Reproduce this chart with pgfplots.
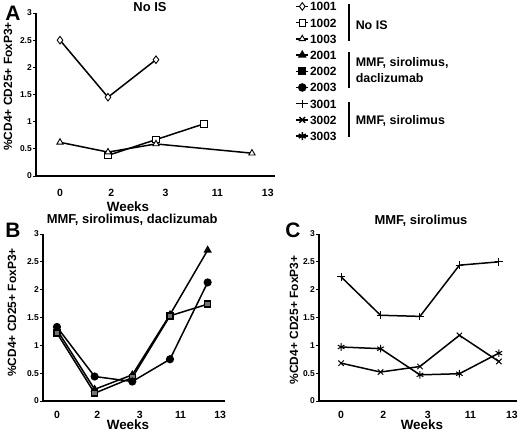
\documentclass[border=0pt]{standalone}
\usepackage{fontspec}
\setmainfont{Liberation Sans}
\usepackage{pgfplots}
\pgfplotsset{compat=1.18}

\pgfplotsset{
  panel/.style={
    scale only axis,
    axis x line*=bottom, axis y line*=left,
    axis line style={line width=1.5bp},
    ymin=0, ymax=3, ytick={0,0.5,...,3},
    xtick={0,1.07,2.2,3.28,4.33},
    xticklabels={0,2,3,11,13},
    x tick style={draw=none},
    y tick style={line width=0.8bp, black},
    tick align=outside, major tick length=3bp,
    /pgf/number format/assume math mode=true,
    yticklabel style={font=\bfseries\fontsize{8.5}{8.5}\selectfont, inner sep=1bp},
    xticklabel style={font=\bfseries\fontsize{10.5}{10.5}\selectfont, anchor=base},
    title style={font=\bfseries\fontsize{13}{13}\selectfont, anchor=center},
    xlabel style={font=\bfseries\fontsize{13.5}{13.5}\selectfont, anchor=center},
    ylabel style={font=\bfseries\fontsize{12}{12}\selectfont, anchor=center},
    every axis plot/.append style={black, line width=1.5bp, mark size=3.3bp},
    clip=false,
  },
  open/.style={mark options={fill=white, solid, line width=0.9bp}},
  full/.style={mark options={fill=black, solid}},
}

\begin{document}
\begin{tikzpicture}
\useasboundingbox (0bp,0bp) rectangle (520bp,432bp);

% A: no immunosuppression
\begin{axis}[panel,
  at={(36bp,256bp)}, anchor=south west,
  width=239bp, height=163bp,
  xmin=-0.5, xmax=4.48,
  xticklabel style={yshift=-17.5bp},
  title={No IS}, title style={at={(axis description cs:0.477,1)}},
  xlabel={Weeks}, xlabel style={at={(axis description cs:0.385,0)}, yshift=-31bp},
  ylabel={\%CD4+ CD25+ FoxP3+}, ylabel style={at={(axis description cs:-0.117,0.55)}},
  legend style={at={(axis description cs:1.085,1.075)}, anchor=north west,
    draw=none, fill=none, inner sep=0pt,
    font=\bfseries\fontsize{12}{12}\selectfont, row sep=5.2bp,
    nodes={inner sep=1bp, text height=9bp, text depth=0bp}},
  legend cell align=left,
  legend image code/.code={\draw[mark repeat=2,mark phase=2] plot coordinates {(0bp,0bp)(6bp,0bp)(12bp,0bp)};},
]
\addplot[mark=diamond*, open, mark size=3.8bp] coordinates {(0,2.50)(1,1.45)(2,2.14)};
\addplot[mark=square*, open] coordinates {(1,0.38)(2,0.67)(3,0.96)};
\addplot[mark=triangle*, open, mark size=3.6bp] coordinates {(0,0.62)(1,0.44)(2,0.59)(4,0.42)};
\addlegendimage{black, line width=1.5bp, mark=triangle*, full, mark size=3.6bp}
\addlegendimage{black, line width=1.5bp, mark=square*, full, mark size=3.3bp}
\addlegendimage{black, line width=1.5bp, mark=*, full, mark size=3.5bp}
\addlegendimage{black, line width=1.5bp, mark=+, mark size=4bp}
\addlegendimage{black, line width=1.5bp, mark=x, mark size=4bp}
\addlegendimage{black, line width=1.5bp, mark=asterisk, mark size=4bp}
\legend{1001,1002,1003,2001,2002,2003,3001,3002,3003}
\end{axis}

% B: MMF, sirolimus, daclizumab
\begin{axis}[panel,
  at={(43bp,31bp)}, anchor=south west,
  width=182bp, height=167bp,
  xmin=-0.37, xmax=4.46,
  xticklabel style={yshift=-14.5bp},
  title={MMF, sirolimus, daclizumab}, title style={at={(axis description cs:0.49,1)}, yshift=8bp},
  xlabel={Weeks}, xlabel style={at={(axis description cs:0.467,0)}, yshift=-24bp},
  ylabel={\%CD4+ CD25+ FoxP3+}, ylabel style={at={(axis description cs:-0.17,0.53)}},
]
\addplot[mark=triangle*, full, mark size=3.3bp] coordinates {(0,1.28)(1,0.21)(2,0.47)(3,1.55)(4,2.71)};
\addplot[mark=square*, mark options={fill=black!55, draw=black, solid}, mark size=3bp] coordinates {(0,1.22)(1,0.14)(2,0.42)(3,1.53)(4,1.74)};
\addplot[mark=*, full] coordinates {(0,1.33)(1,0.44)(2,0.35)(3,0.75)(4,2.13)};
\end{axis}

% C: MMF, sirolimus
\begin{axis}[panel,
  at={(319bp,31bp)}, anchor=south west,
  width=198bp, height=167bp,
  xmin=-0.56, xmax=4.46,
  xticklabel style={yshift=-14.5bp},
  title={MMF, sirolimus}, title style={at={(axis description cs:0.515,1)}, yshift=7bp},
  xlabel={Weeks}, xlabel style={at={(axis description cs:0.52,0)}, yshift=-24bp},
  ylabel={\%CD4+ CD25+ FoxP3+}, ylabel style={at={(axis description cs:-0.126,0.485)}},
]
\addplot[mark=+, mark size=3.8bp, mark options={line width=1bp}] coordinates {(0,2.23)(1,1.54)(2,1.52)(3,2.44)(4,2.50)};
\addplot[mark=x, mark size=3.8bp, mark options={line width=1bp}] coordinates {(0,0.68)(1,0.52)(2,0.62)(3,1.18)(4,0.71)};
\addplot[mark=asterisk, mark size=3.8bp, mark options={line width=1bp}] coordinates {(0,0.97)(1,0.94)(2,0.47)(3,0.49)(4,0.86)};
\end{axis}

% panel letters
\begin{scope}[every node/.style={font=\bfseries\fontsize{21}{21}\selectfont, inner sep=0pt}]
\node at (13bp,419bp) {A};
\node at (13bp,202bp) {B};
\node at (293bp,202bp) {C};
\end{scope}

% legend groups
\begin{scope}[line width=1.5bp, every node/.style={font=\bfseries\fontsize{12.5}{12.5}\selectfont, inner sep=0pt, anchor=west}]
\draw (349bp,428bp) -- (349bp,391bp);
\draw (349bp,380bp) -- (349bp,344bp);
\draw (349bp,330bp) -- (349bp,295bp);
\node at (355bp,407bp) {No IS};
\node at (355bp,369bp) {MMF, sirolimus,};
\node at (355bp,354bp) {daclizumab};
\node at (355bp,311bp) {MMF, sirolimus};
\end{scope}
\end{tikzpicture}
\end{document}
